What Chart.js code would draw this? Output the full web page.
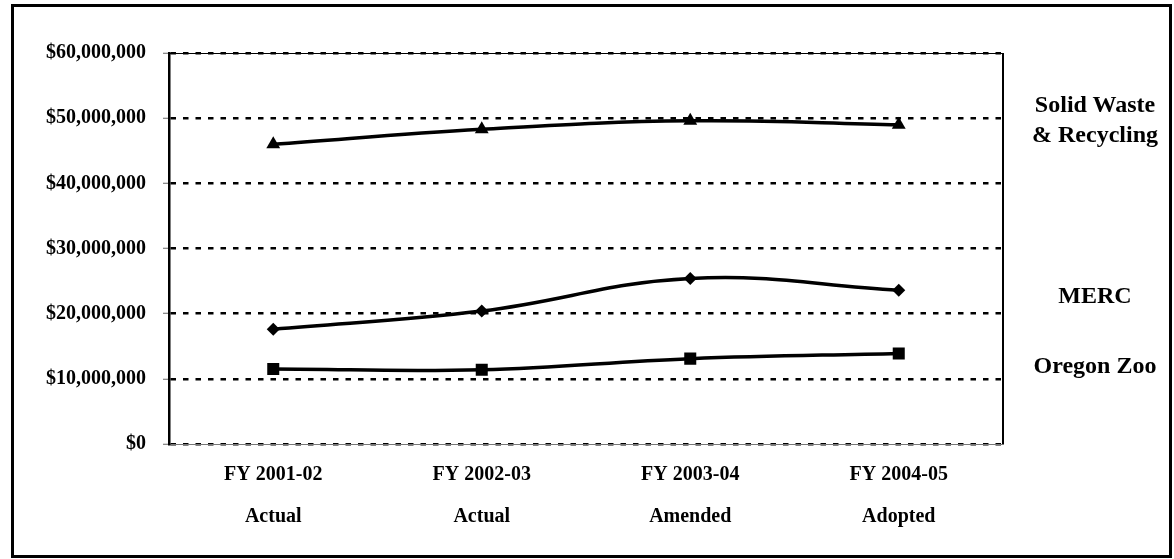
<!DOCTYPE html>
<html>
<head>
<meta charset="utf-8">
<script src="https://cdn.jsdelivr.net/npm/chart.js"></script>
<style>
  html, body { margin: 0; padding: 0; background: #fff; }
  body {
    width: 1174px;
    height: 559px;
    position: relative;
    overflow: hidden;
    font-family: 'Liberation Serif', 'Times New Roman', serif;
  }

  /* outer frame */
  .frame {
    position: absolute;
    left: 11px;
    top: 4px;
    width: 1161px;
    height: 554px;
    box-sizing: border-box;
    border: 3px solid #000;
  }

  canvas { position: absolute; left: 0; top: 0; }

  /* series names on the right */
  .lbl {
    position: absolute;
    left: 1010px;
    width: 170px;
    text-align: center;
    font-weight: bold;
    font-size: 24px;
    line-height: 30px;
    color: #000;
  }
</style>
</head>
<body>

<div class="frame"></div>
<canvas id="budgetChart" width="1174" height="559"></canvas>

<div class="lbl" id="lblWaste" style="top:89px;"></div>
<div class="lbl" id="lblMerc" style="top:280px;"></div>
<div class="lbl" id="lblZoo" style="top:350px;"></div>

<script>
// categories (two-line labels)
const categories = [
  ['FY 2001-02', 'Actual'],
  ['FY 2002-03', 'Actual'],
  ['FY 2003-04', 'Amended'],
  ['FY 2004-05', 'Adopted']
];

// series values
const solidWaste = [46000000, 48300000, 49600000, 49000000];
const merc = [17600000, 20400000, 25400000, 23600000];
const oregonZoo = [11500000, 11400000, 13100000, 13900000];

const seriesNames = ['Solid Waste<br>& Recycling', 'MERC', 'Oregon Zoo'];

// y axis
const yMin = 0;
const yMax = 60000000;
const yStep = 10000000;

document.getElementById('lblWaste').innerHTML = seriesNames[0];
document.getElementById('lblMerc').innerHTML = seriesNames[1];
document.getElementById('lblZoo').innerHTML = seriesNames[2];

const fontFamily = "'Liberation Serif', 'Times New Roman', serif";

// thin solid frame on top / right of the plot area
const plotFrame = {
  id: 'plotFrame',
  beforeDatasetsDraw(chart) {
    const { ctx, chartArea: a } = chart;
    ctx.save();
    ctx.strokeStyle = '#000';
    ctx.lineWidth = 1;
    ctx.beginPath();
    ctx.moveTo(a.left, a.top + 0.5);
    ctx.lineTo(a.right, a.top + 0.5);
    ctx.stroke();
    ctx.lineWidth = 2;
    ctx.beginPath();
    ctx.moveTo(a.right, a.top);
    ctx.lineTo(a.right, a.bottom);
    ctx.stroke();
    ctx.restore();
  }
};

function series(label, data, style, radius) {
  return {
    label,
    data,
    borderColor: '#000',
    backgroundColor: '#000',
    pointBackgroundColor: '#000',
    pointBorderColor: '#000',
    pointBorderWidth: 0,
    pointStyle: style,
    pointRadius: radius,
    borderWidth: 3.5,
    tension: 0.4,
    fill: false
  };
}

new Chart(document.getElementById('budgetChart'), {
  type: 'line',
  data: {
    labels: categories,
    datasets: [
      series('Solid Waste & Recycling', solidWaste, 'triangle', 8),
      series('MERC', merc, 'rectRot', 6.5),
      series('Oregon Zoo', oregonZoo, 'rect', 8.5)
    ]
  },
  options: {
    responsive: false,
    animation: false,
    layout: { padding: { top: 53, right: 171, left: 0, bottom: 0 } },
    plugins: {
      legend: { display: false },
      tooltip: { enabled: false }
    },
    scales: {
      x: {
        offset: true,
        grid: { display: false, drawTicks: false },
        border: { display: true, color: '#777', width: 1 },
        ticks: {
          color: '#000',
          padding: 10,
          maxRotation: 0,
          autoSkip: false,
          font: { family: fontFamily, size: 20, weight: 'bold', lineHeight: 2.1 }
        },
        afterFit(scale) { scale.height = 115; }
      },
      y: {
        min: yMin,
        max: yMax,
        ticks: {
          stepSize: yStep,
          color: '#000',
          padding: 17,
          font: { family: fontFamily, size: 20, weight: 'bold' },
          callback: v => '$' + v.toLocaleString('en-US')
        },
        grid: {
          color: '#000',
          lineWidth: 2.5,
          tickColor: '#666',
          tickWidth: 1,
          tickLength: 6
        },
        border: { display: true, color: '#000', width: 2.5, dash: [5.5, 7] },
        afterFit(scale) { scale.width = 169; }
      }
    }
  },
  plugins: [plotFrame]
});
</script>

</body>
</html>
